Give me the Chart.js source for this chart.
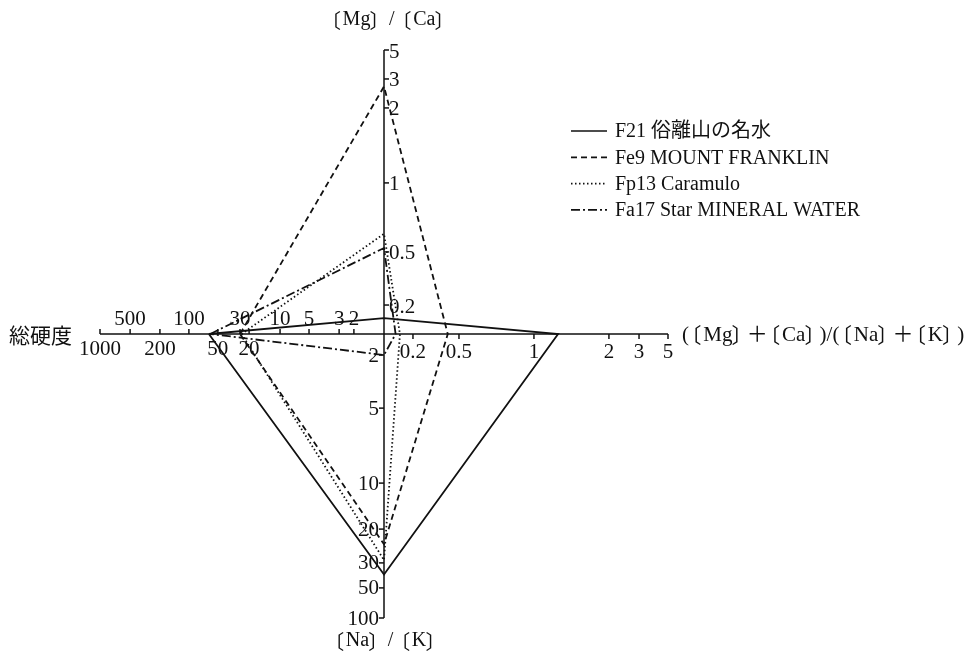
<!DOCTYPE html>
<html lang="ja">
<head>
<meta charset="UTF-8">
<title>ミネラルウォーター 水質ダイヤグラム</title>
<script src="https://cdn.jsdelivr.net/npm/chart.js"></script>
<style>
  body { margin: 0; background: #fff; }
  #wrap { width: 973px; height: 658px; }
</style>
</head>
<body>
<div id="wrap"><canvas id="diagram" width="973" height="658"></canvas></div>
<script>
// four half-axes: hardness (left), Mg/Ca (up), (Mg+Ca)/(Na+K) (right), Na/K (down)
const axisTitles = ['総硬度', '〔Mg〕 / 〔Ca〕', '(〔Mg〕＋〔Ca〕)/(〔Na〕＋〔K〕)', '〔Na〕 / 〔K〕'];

const seriesNames = ['F21 俗離山の名水', 'Fe9 MOUNT FRANKLIN', 'Fp13 Caramulo', 'Fa17 Star MINERAL WATER'];
const hardness = [62, 30, 28, 60];
const mgCa = [0.11, 2.7, 0.6, 0.52];
const mgCaNaK = [1.25, 0.4, 0.11, 0.08];
const naK = [38, 24, 29, 2];

const hardnessTicks = [2, 3, 5, 10, 20, 30, 50, 100, 200, 500, 1000];
const ratioTicks = [0.2, 0.5, 1, 2, 3, 5];
const naKTicks = [2, 5, 10, 20, 30, 50, 100];
const hardnessBelow = [1000, 200, 50, 20];

// where each tick sits along its half-axis (0 = centre, 1 = end)
const hardnessAt = [0.106, 0.158, 0.264, 0.366, 0.475, 0.507, 0.585, 0.687, 0.789, 0.894, 1];
const mgCaAt = [0.102, 0.289, 0.532, 0.796, 0.898, 1];
const ratioAt = [0.102, 0.264, 0.528, 0.792, 0.898, 1];
const naKAt = [0.074, 0.261, 0.525, 0.687, 0.806, 0.894, 1];

const halfAxes = {
  x: { pos: { ticks: ratioTicks, at: ratioAt }, neg: { ticks: hardnessTicks, at: hardnessAt } },
  y: { pos: { ticks: ratioTicks, at: mgCaAt }, neg: { ticks: naKTicks, at: naKAt } }
};

function toUnit(half, v) {
  const t = half.ticks, a = half.at;
  if (v <= t[0]) return a[0] * v / t[0];
  for (let i = 1; i < t.length; i++) {
    if (v <= t[i] || i === t.length - 1) {
      const f = Math.log(v / t[i - 1]) / Math.log(t[i] / t[i - 1]);
      return a[i - 1] + f * (a[i] - a[i - 1]);
    }
  }
}

// linear scale running -1..1; positive values use one half-axis, negative the other
class DiamondScale extends Chart.LinearScale {
  getPixelForValue(value) {
    if (value === null || isNaN(value)) return NaN;
    const h = halfAxes[this.axis];
    const u = value >= 0 ? toUnit(h.pos, value) : -toUnit(h.neg, -value);
    return super.getPixelForValue(u);
  }
}
DiamondScale.id = 'diamond';
Chart.register(DiamondScale);

const INK = '#111';
const dashes = [[], [6, 4], [1.5, 2.5], [9, 3, 2, 3]];
const SERIF = '"Liberation Serif", "Noto Sans CJK JP", serif';
const CJK = '"Noto Sans CJK JP", sans-serif';

// text with 〔〕 brackets set tight against the Latin letters
function richText(ctx, text, x, y, size, align) {
  const segs = [];
  let buf = '';
  const flush = () => {
    if (!buf) return;
    ctx.font = size + 'px ' + SERIF;
    segs.push({ t: buf, font: ctx.font, dx: 0, adv: ctx.measureText(buf).width });
    buf = '';
  };
  for (const ch of text) {
    if (ch === '〔') { flush(); segs.push({ t: ch, font: size + 'px ' + CJK, dx: -0.4 * size, adv: 0.68 * size }); }
    else if (ch === '〕') { flush(); segs.push({ t: ch, font: size + 'px ' + CJK, dx: -0.04 * size, adv: 0.68 * size }); }
    else buf += ch;
  }
  flush();
  const total = segs.reduce((s, g) => s + g.adv, 0);
  let cx = align === 'center' ? x - total / 2 : x;
  ctx.textAlign = 'left';
  segs.forEach(g => {
    ctx.font = g.font;
    ctx.fillText(g.t, cx + g.dx, y);
    cx += g.adv;
  });
}

const axesPlugin = {
  id: 'diamondAxes',
  beforeDatasetsDraw(chart) {
    const { ctx } = chart;
    const xs = chart.scales.x, ys = chart.scales.y;
    const cx = xs.getPixelForValue(0), cy = ys.getPixelForValue(0);
    const tick = 5;
    ctx.save();
    ctx.strokeStyle = INK;
    ctx.fillStyle = INK;
    ctx.lineWidth = 1.5;

    // axis lines
    ctx.beginPath();
    ctx.moveTo(xs.getPixelForValue(-1000), cy);
    ctx.lineTo(xs.getPixelForValue(5), cy);
    ctx.moveTo(cx, ys.getPixelForValue(5));
    ctx.lineTo(cx, ys.getPixelForValue(-100));
    ctx.stroke();

    ctx.font = '21px ' + SERIF;

    // hardness: ticks up, labels alternating above / below
    ctx.textAlign = 'center';
    ctx.textBaseline = 'alphabetic';
    hardnessTicks.forEach(v => {
      const px = xs.getPixelForValue(-v);
      ctx.beginPath(); ctx.moveTo(px, cy); ctx.lineTo(px, cy - tick); ctx.stroke();
      const below = hardnessBelow.includes(v);
      ctx.fillText(String(v), px, below ? cy + 21 : cy - 9);
    });

    // (Mg+Ca)/(Na+K): ticks down, labels below
    ratioTicks.forEach(v => {
      const px = xs.getPixelForValue(v);
      ctx.beginPath(); ctx.moveTo(px, cy); ctx.lineTo(px, cy + tick); ctx.stroke();
      ctx.fillText(String(v), px, cy + 24);
    });

    // Mg/Ca: ticks right, labels right
    ctx.textAlign = 'left';
    ctx.textBaseline = 'middle';
    ratioTicks.forEach(v => {
      const py = ys.getPixelForValue(v);
      ctx.beginPath(); ctx.moveTo(cx, py); ctx.lineTo(cx + tick, py); ctx.stroke();
      ctx.fillText(String(v), cx + 5, py + 2);
    });

    // Na/K: ticks left, labels left
    ctx.textAlign = 'right';
    naKTicks.forEach(v => {
      const py = ys.getPixelForValue(-v);
      ctx.beginPath(); ctx.moveTo(cx, py); ctx.lineTo(cx - tick, py); ctx.stroke();
      ctx.fillText(String(v), cx - 5, py + 1);
    });

    // axis titles
    ctx.font = '21px ' + SERIF;
    ctx.textAlign = 'left';
    ctx.fillText(axisTitles[0], 9, cy + 3);
    richText(ctx, axisTitles[2], xs.getPixelForValue(5) + 14, cy + 1, 21, 'left');
    richText(ctx, axisTitles[1], cx + 5, 20, 20, 'center');
    richText(ctx, axisTitles[3], cx + 2, 641, 20, 'center');
    ctx.restore();
  },
  afterDraw(chart) {
    // legend with line samples
    const { ctx } = chart;
    ctx.save();
    ctx.strokeStyle = INK;
    ctx.fillStyle = INK;
    ctx.font = '20px ' + SERIF;
    ctx.textAlign = 'left';
    ctx.textBaseline = 'middle';
    chart.data.datasets.forEach((ds, i) => {
      const y = 131 + i * 26.3;
      ctx.lineWidth = 1.7;
      ctx.setLineDash(ds.borderDash);
      ctx.beginPath(); ctx.moveTo(571, y); ctx.lineTo(607, y); ctx.stroke();
      ctx.setLineDash([]);
      ctx.fillText(ds.label, 615, y + 1);
    });
    ctx.restore();
  }
};

new Chart(document.getElementById('diagram'), {
  type: 'scatter',
  data: {
    datasets: seriesNames.map((name, i) => ({
      label: name,
      data: [
        { x: -hardness[i], y: 0 },
        { x: 0, y: mgCa[i] },
        { x: mgCaNaK[i], y: 0 },
        { x: 0, y: -naK[i] },
        { x: -hardness[i], y: 0 }
      ],
      showLine: true,
      borderColor: INK,
      borderWidth: 1.8,
      borderDash: dashes[i],
      pointRadius: 0,
      tension: 0,
      fill: false
    }))
  },
  options: {
    responsive: false,
    devicePixelRatio: 1,
    animation: false,
    layout: { padding: { left: 100, right: 305, top: 50, bottom: 40 } },
    scales: {
      x: { type: 'diamond', min: -1, max: 1, display: false },
      y: { type: 'diamond', min: -1, max: 1, display: false }
    },
    plugins: { legend: { display: false }, tooltip: { enabled: false } }
  },
  plugins: [axesPlugin]
});
</script>
</body>
</html>
